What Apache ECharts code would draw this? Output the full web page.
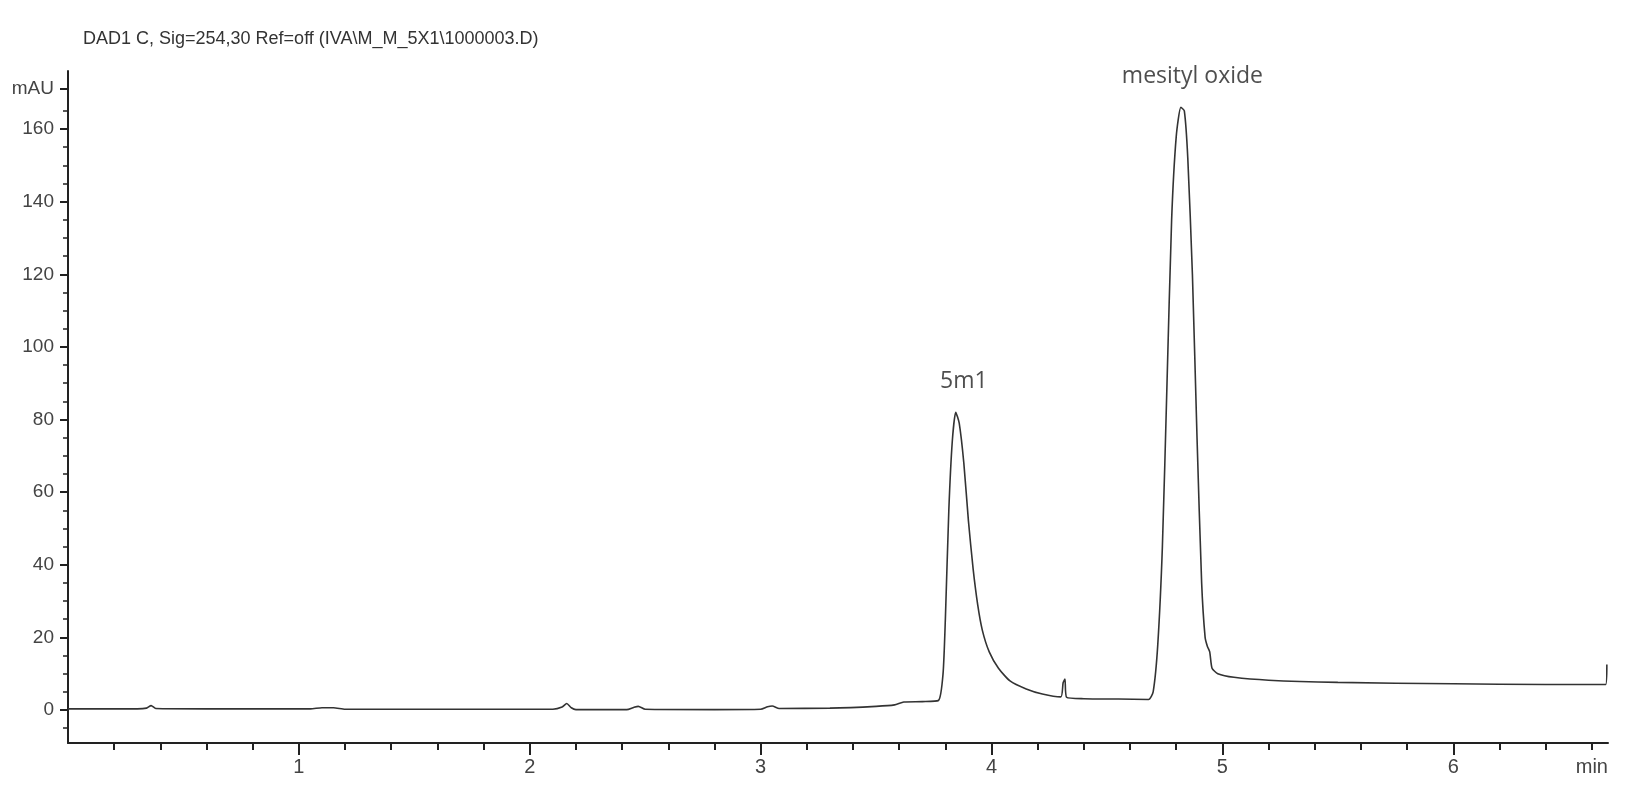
<!doctype html>
<html lang="en">
  <head>
    <meta charset="utf-8">
    <title>DAD1 C chromatogram</title>
    <script src="https://cdn.jsdelivr.net/npm/echarts@6.0.0/dist/echarts.min.js"></script>
    <style>
      html, body { margin: 0; padding: 0; background: #fff; }
      #chart { width: 1628px; height: 800px; }
    </style>
  </head>
  <body>
    <div id="chart"></div>
    <script>
    // retention time (min), absorbance (mAU)
    var signal = [
      [0.00, 0.3], [0.30, 0.3], [0.34, 0.5], [0.36, 1.2], [0.38, 0.4], [0.60, 0.3],
      [1.05, 0.3], [1.10, 0.6], [1.15, 0.6], [1.20, 0.2], [1.60, 0.2], [2.10, 0.2],
      [2.14, 0.8], [2.16, 1.8], [2.18, 0.6], [2.20, 0.1], [2.42, 0.1], [2.45, 0.7],
      [2.47, 1.0], [2.50, 0.2], [2.80, 0.1], [3.00, 0.2], [3.03, 0.9], [3.05, 1.1],
      [3.08, 0.4], [3.30, 0.5], [3.50, 1.0], [3.58, 1.4], [3.62, 2.2], [3.70, 2.3],
      [3.77, 2.6], [3.79, 10], [3.80, 25], [3.815, 55], [3.83, 74], [3.845, 82],
      [3.86, 79], [3.88, 68], [3.90, 52], [3.92, 39], [3.94, 29], [3.96, 22],
      [3.99, 16], [4.03, 11.5], [4.08, 8], [4.15, 5.8], [4.22, 4.4], [4.30, 3.6],
      [4.31, 7.5], [4.318, 8.5], [4.325, 3.5], [4.40, 3.1], [4.55, 3.0], [4.68, 2.9],
      [4.70, 5], [4.72, 18], [4.74, 45], [4.76, 90], [4.78, 135], [4.80, 158],
      [4.82, 166], [4.835, 165], [4.85, 152], [4.87, 120], [4.89, 75], [4.91, 35],
      [4.925, 20], [4.935, 17.5], [4.945, 16], [4.955, 11.5], [4.98, 10], [5.05, 9],
      [5.20, 8.2], [5.50, 7.6], [6.00, 7.2], [6.40, 7.0], [6.66, 7.0], [6.665, 12.5]
    ];
    var peaks = [
      { name: '5m1', value: [3.88, 86] },
      { name: 'mesityl oxide', value: [4.87, 170] }
    ];
    var yLabels = [0, 20, 40, 60, 80, 100, 120, 140, 160];
    var yMinor = [-5, 5, 10, 15, 25, 30, 35, 45, 50, 55, 65, 70, 75, 85, 90, 95, 105, 110, 115,
                  125, 130, 135, 145, 150, 155, 165, 171];
    var xLabels = [1, 2, 3, 4, 5, 6];
    var xMinor = [0.2, 0.4, 0.6, 0.8, 1.2, 1.4, 1.6, 1.8, 2.2, 2.4, 2.6, 2.8, 3.2, 3.4, 3.6, 3.8,
                  4.2, 4.4, 4.6, 4.8, 5.2, 5.4, 5.6, 5.8, 6.2, 6.4, 6.6];
    var titleText = 'DAD1 C, Sig=254,30 Ref=off (IVA\\M_M_5X1\\1000003.D)';

    var chart = echarts.init(document.getElementById('chart'), null, { renderer: 'canvas' });
    var font = "'Liberation Sans Narrow', 'Liberation Sans', Arial, sans-serif";
    var axisLine = { show: true, onZero: false, lineStyle: { color: '#222', width: 2 } };

    var option = {
      animation: false,
      title: {
        text: titleText, left: 78, top: 25,
        textStyle: { fontFamily: font, fontSize: 18, fontWeight: 'normal', color: '#333' }
      },
      grid: { left: 68, right: 20, top: 71, bottom: 57 },
      xAxis: [{
        type: 'value', min: 0, max: 6.67,
        axisLine: axisLine, splitLine: { show: false },
        axisTick: { show: true, length: 12, lineStyle: { color: '#222', width: 2 },
                    customValues: xLabels },
        axisLabel: { customValues: xLabels.concat([6.6]), margin: 14, fontFamily: font,
                     fontSize: 20, color: '#444',
                     formatter: function (v) { return v > 6.5 ? 'min' : String(v); } }
      }, {
        type: 'value', min: 0, max: 6.67, position: 'bottom',
        axisLine: { show: false, onZero: false }, splitLine: { show: false },
        axisTick: { show: true, length: 7, lineStyle: { color: '#222', width: 2 },
                    customValues: xMinor },
        axisLabel: { show: false }
      }],
      yAxis: [{
        type: 'value', min: -9.1, max: 176,
        axisLine: axisLine, splitLine: { show: false },
        axisTick: { show: true, length: 8, lineStyle: { color: '#222', width: 2 },
                    customValues: yLabels.concat([171]) },
        axisLabel: { customValues: yLabels.concat([171]), margin: 14, fontFamily: font,
                     fontSize: 19, color: '#444',
                     formatter: function (v) { return v > 165 ? 'mAU' : String(v); } }
      }, {
        type: 'value', min: -9.1, max: 176, position: 'left',
        axisLine: { show: false, onZero: false }, splitLine: { show: false },
        axisTick: { show: true, length: 5, lineStyle: { color: '#222', width: 1.5 },
                    customValues: yMinor },
        axisLabel: { show: false }
      }],
      series: [{
        type: 'line', data: signal, showSymbol: false, smooth: 0.2,
        lineStyle: { color: '#333', width: 1.6 }
      }, {
        type: 'scatter', data: peaks, symbolSize: 0,
        label: { show: true, position: 'top', formatter: '{b}', fontFamily: "'Open Sans', sans-serif",
                 fontSize: 23, color: '#222' }
      }]
    };

    chart.setOption(option);
    window.addEventListener('resize', chart.resize);
    </script>
  </body>
</html>
